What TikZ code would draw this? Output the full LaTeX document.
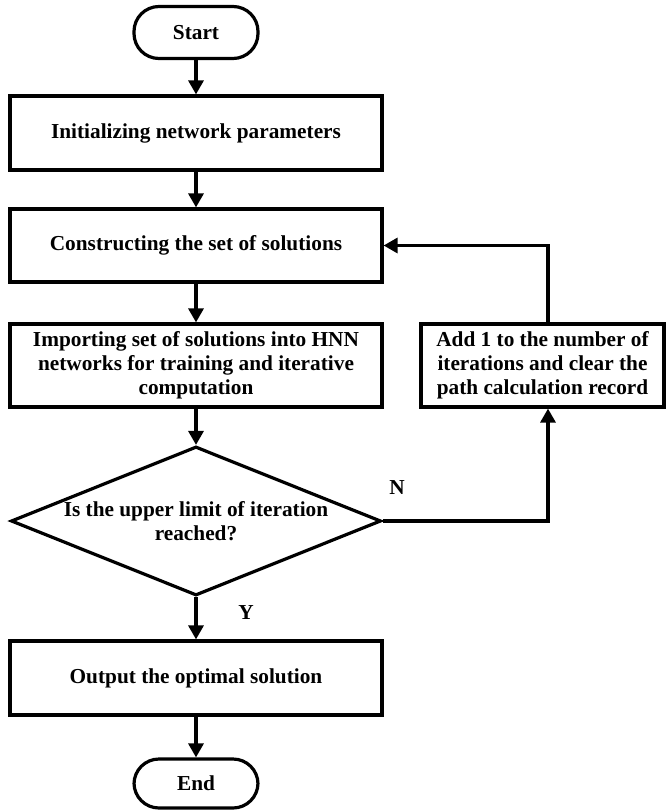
\documentclass[tikz,border=0pt]{standalone}
\usepackage{fontspec}
\setmainfont{Liberation Serif}
\usetikzlibrary{shapes.geometric,arrows.meta}
\begin{document}
\begin{tikzpicture}[x=1pt,y=-1pt,
  every node/.style={font=\fontsize{21.3}{23.8}\selectfont\bfseries, align=center, inner sep=0pt},
  term/.style={draw, line width=3.2pt, rounded corners=25pt, minimum height=52pt, minimum width=124pt},
  proc/.style={draw, line width=3.2pt, minimum width=372pt},
  decide/.style={draw, line width=3.2pt, diamond, aspect=2.46, minimum width=370pt, minimum height=149pt},
  arr/.style={line width=3.2pt, -{Triangle[length=14pt,width=15pt]}},
  lbl/.style={font=\fontsize{21.3}{24}\selectfont\bfseries}
]
\useasboundingbox (0,0) rectangle (668,811);
\node[term] (start) at (196,32.5) {Start};
\node[proc, minimum height=74pt] (b1) at (196,133) {Initializing network parameters};
\node[proc, minimum height=73pt] (b2) at (196,245.5) {Constructing the set of solutions};
\node[proc, minimum height=83pt] (b3) at (196,365.5) {Importing set of solutions into HNN\\networks for training and iterative\\computation};
\node[proc, minimum width=243pt, minimum height=83pt] (rb) at (542.5,365.5) {Add 1 to the number of\\iterations and clear the\\path calculation record};
\node[decide] (dia) at (196,521) {Is the upper limit of iteration\\reached?};
\node[proc, minimum height=74pt] (b4) at (196,678) {Output the optimal solution};
\node[term, minimum height=49pt] (end) at (196,783.5) {End};
\coordinate (fx) at (548,0);
\draw[arr] (start) -- (b1);
\draw[arr] (b1) -- (b2);
\draw[arr] (b2) -- (b3);
\draw[arr] (b3) -- (dia);
\draw[arr] (dia) -- (b4);
\draw[arr] (b4) -- (end);
\draw[arr] (dia.east) -| (rb.south -| fx);
\draw[arr] (rb.north -| fx) |- (b2.east);
\node[lbl] (nl) at (397,488) {N};
\node[lbl] (yl) at (246,613) {Y};
\end{tikzpicture}
\end{document}
